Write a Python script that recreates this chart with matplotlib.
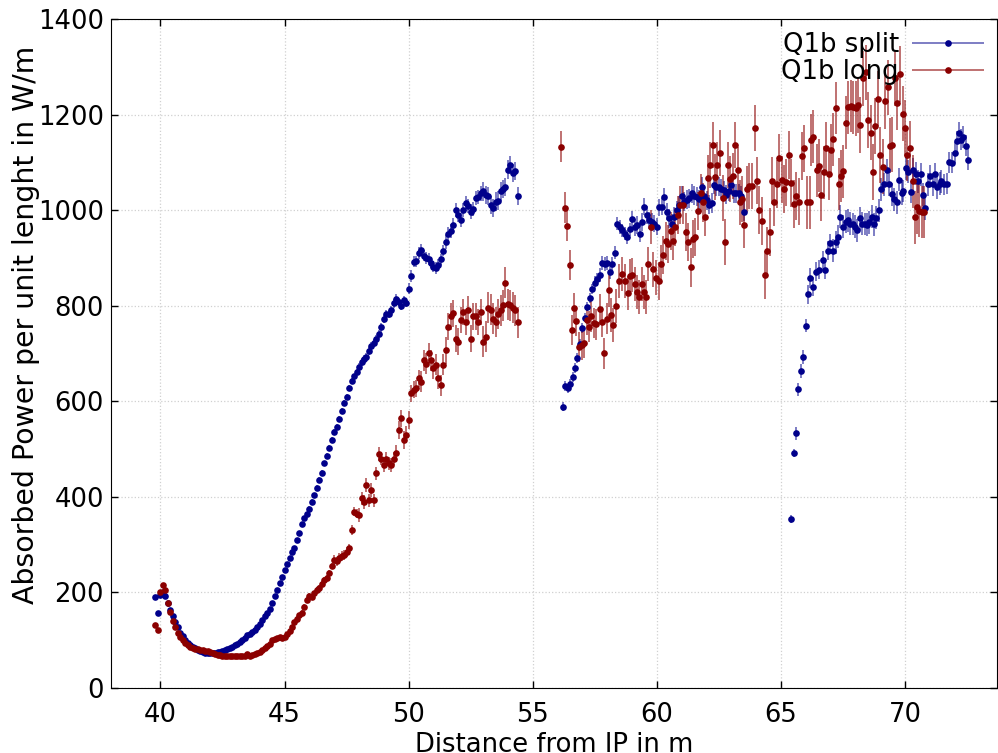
import numpy as np
from matplotlib import pyplot as plt
from matplotlib.container import ErrorbarContainer
from matplotlib.legend_handler import HandlerErrorbar

"""
Absorbed power along the Q1b magnet, split vs long layout
values read off the reference picture
"""

"""Q1b split, first part: 39.8 m .. 54.4 m, one point every 0.1 m"""
split_a_x = np.round(np.arange(39.8, 54.45, 0.1), 1)
split_a_y = [190, 158, 195, 200, 192, 178, 163, 150, 138, 127,
             116, 108, 100, 95, 90, 86, 83, 80, 78, 76,
             74, 73, 73, 73, 74, 75, 76, 78, 79, 81,
             83, 86, 89, 93, 97, 100, 105, 110, 113, 117,
             121, 128, 135, 142, 150, 157, 166, 177, 192, 206,
             219, 232, 248, 260, 272, 285, 293, 310, 325, 343,
             355, 364, 374, 390, 403, 418, 435, 450, 470, 485,
             503, 520, 535, 547, 563, 580, 596, 610, 628, 642,
             652, 662, 672, 682, 688, 693, 705, 716, 722, 730,
             740, 755, 772, 782, 783, 790, 805, 815, 808, 800,
             812, 806, 836, 862, 892, 893, 910, 917, 905, 900,
             898, 890, 882, 879, 886, 897, 915, 934, 950, 957,
             968, 1000, 990, 980, 1000, 1014, 1008, 997, 1002, 1025,
             1028, 1035, 1039, 1032, 1030, 1010, 1004, 1018, 1020, 1039,
             1045, 1049, 1085, 1094, 1077, 1082, 1030]

"""Q1b split, second part: 56.2 m .. 63.5 m"""
split_b_x = np.round(np.arange(56.2, 63.55, 0.1), 1)
split_b_y = [589, 632, 627, 637, 651, 670, 690, 720, 753, 775,
             798, 816, 835, 848, 855, 864, 889, 887, 889, 870,
             887, 911, 972, 965, 958, 951, 944, 960, 981, 964,
             969, 951, 975, 1007, 990, 979, 975, 972, 965, 1006,
             1007, 1028, 997, 983, 972, 986, 1000, 1010, 1030, 1018,
             1022, 1025, 1035, 1030, 1028, 1023, 1049, 1030, 1021, 1011,
             1015, 1053, 1049, 1049, 1045, 1042, 1032, 1040, 1053, 1035,
             1035, 1035, 1030, 997]

"""Q1b split, third part"""
split_c_x = [65.4, 65.52, 65.61, 65.7, 65.8, 65.88, 65.99, 66.09, 66.17, 66.3,
             66.41, 66.54, 66.68, 66.79, 66.91, 66.99, 67.1, 67.2, 67.3, 67.39,
             67.48, 67.6, 67.7, 67.78, 67.88, 67.99, 68.08, 68.2, 68.27, 68.37,
             68.47, 68.55, 68.67, 68.75, 68.83, 68.95, 69.04, 69.14, 69.26, 69.33,
             69.47, 69.57, 69.66, 69.77, 69.86, 69.93, 70.02, 70.11, 70.24, 70.33,
             70.42, 70.52, 70.62, 70.71, 70.79, 70.91, 71.01, 71.11, 71.21, 71.3,
             71.39, 71.46, 71.57, 71.67, 71.78, 71.88, 71.99, 72.07, 72.16, 72.24,
             72.34, 72.44, 72.54]
split_c_y = [353, 492, 533, 625, 663, 693, 758, 824, 858, 840,
             871, 875, 895, 875, 915, 931, 915, 933, 944, 986,
             965, 976, 979, 972, 971, 965, 958, 983, 972, 971,
             969, 975, 986, 970, 984, 1000, 1044, 1054, 1083, 1054,
             1033, 1023, 1016, 1064, 1035, 1040, 1088, 1080, 1038, 1085,
             1076, 1060, 1075, 1032, 1004, 1054, 1071, 1054, 1075, 1048,
             1055, 1060, 1054, 1055, 1100, 1099, 1120, 1144, 1162, 1147,
             1153, 1135, 1105]

"""Q1b long, first part: 39.8 m .. 54.4 m"""
long_a_x = np.round(np.arange(39.8, 54.45, 0.1), 1)
long_a_y = [132, 122, 200, 215, 205, 178, 160, 140, 128, 115,
            106, 100, 94, 89, 86, 84, 82, 81, 80, 79,
            78, 77, 76, 74, 72, 70, 69, 68, 68, 67,
            67, 68, 66, 67, 66, 66, 68, 72, 68, 70,
            71, 73, 76, 80, 84, 88, 92, 100, 103, 105,
            107, 104, 106, 112, 120, 128, 138, 145, 152, 158,
            170, 185, 192, 190, 198, 205, 210, 218, 226, 230,
            240, 255, 268, 265, 272, 276, 278, 285, 292, 331,
            369, 365, 362, 397, 389, 425, 393, 414, 393, 449,
            490, 480, 467, 480, 470, 467, 480, 491, 540, 564,
            519, 530, 561, 617, 624, 627, 648, 641, 686, 679,
            700, 686, 669, 676, 648, 634, 676, 707, 756, 778,
            784, 731, 725, 770, 787, 766, 792, 731, 778, 778,
            766, 787, 725, 735, 796, 792, 773, 766, 783, 790,
            801, 848, 803, 801, 796, 790, 765]

"""Q1b long, second part"""
long_b_x = [56.15, 56.29, 56.38, 56.48, 56.57, 56.66, 56.76, 56.86, 56.97, 57.06,
            57.18, 57.27, 57.36, 57.47, 57.55, 57.69, 57.77, 57.88, 57.97, 58.05,
            58.14, 58.24, 58.37, 58.48, 58.59, 58.72, 58.83, 58.93, 59.01, 59.1,
            59.2, 59.28, 59.38, 59.47, 59.55, 59.66, 59.76, 59.86, 59.97, 60.07,
            60.16, 60.25, 60.36, 60.46, 60.55, 60.64, 60.74, 60.83, 60.93, 61.06,
            61.17, 61.27, 61.36, 61.45, 61.55, 61.67, 61.77, 61.86, 61.94, 62.04,
            62.13, 62.24, 62.34, 62.42, 62.55, 62.65, 62.74, 62.85, 62.95, 63.05,
            63.16, 63.26, 63.35, 63.42, 63.52, 63.63, 63.72, 63.83, 63.94, 64.05,
            64.13, 64.22, 64.36, 64.45, 64.55,
            64.64, 64.73, 64.82, 64.93, 65.03, 65.12, 65.22, 65.33, 65.42, 65.52,
            65.61, 65.73, 65.83, 65.93, 66.04, 66.15, 66.21, 66.3, 66.44, 66.52,
            66.63, 66.73, 66.82, 66.92, 67.0, 67.11, 67.22, 67.32, 67.41, 67.5,
            67.62, 67.71, 67.81, 67.91, 68.0, 68.1, 68.19, 68.31, 68.42, 68.51,
            68.61, 68.71, 68.8, 68.91, 69.0, 69.1, 69.2, 69.31, 69.4, 69.49,
            69.59, 69.67, 69.81, 69.9, 69.99, 70.09, 70.2, 70.3, 70.39, 70.48,
            70.57, 70.67, 70.77]
long_b_y = [1133, 1005, 967, 885, 749, 795, 768, 714, 718, 722,
            770, 756, 778, 764, 761, 793, 766, 700, 773, 833,
            780, 760, 800, 852, 866, 852, 826, 862, 864, 845,
            829, 818, 846, 829, 818, 887, 965, 876, 859, 852,
            887, 906, 936, 929, 957, 936, 965, 990, 1011, 1011,
            955, 933, 880, 940, 943, 998, 1036, 1016, 985, 1067,
            1095, 1136, 1070, 1095, 1120, 1026, 934, 1094, 1065, 1071,
            1136, 1085, 1016, 1023, 969, 1044, 1051, 1051, 1171, 1062,
            1000, 977, 864, 914, 955,
            1062, 1016, 1055, 1110, 1064, 1044, 1058, 1115, 1057, 1013,
            1030, 1018, 1113, 1129, 1016, 1016, 1147, 1154, 1083, 1093,
            1032, 1079, 1129, 1076, 1126, 1148, 1214, 1055, 1071, 1081,
            1183, 1215, 1218, 1215, 1213, 1220, 1178, 1276, 1288, 1189,
            1162, 1080, 1176, 1233, 1115, 1091, 1228, 1257, 1135, 1137,
            1276, 1225, 1285, 1202, 1172, 1115, 1131, 1060, 985, 1006,
            999, 996, 996]

"""Size of the y error bars, read off per stretch of distance (start of stretch, W/m)"""
split_err_from = [38, 44, 46, 48, 50, 51.5, 53, 55, 57.5, 59, 60.5, 64, 65.6, 66, 67, 70, 71.5]
split_err_size = [3, 4, 6, 9, 12, 15, 19, 10, 14, 18, 20, 8, 14, 20, 24, 24, 22]
long_err_from = [38, 44, 45.5, 47, 48, 49.5, 50.5, 51.5, 53, 55, 58, 60, 62, 64, 66, 68, 70]
long_err_size = [3, 4, 6, 10, 14, 18, 22, 28, 32, 32, 36, 40, 48, 50, 55, 58, 55]

x_bin = 0.05  # half width of a bin in m

xlabels = ["40", "45", "50", "55", "60", "65", "70"]
ylabels = ["0", "200", "400", "600", "800", "1000", "1200", "1400"]


def errors(x, starts, sizes):
    idx = np.searchsorted(starts, x, side="right") - 1
    return np.array(sizes)[idx]


def join(*parts):
    return np.concatenate([np.asarray(p, dtype=float) for p in parts])


sx = join(split_a_x, split_b_x, split_c_x)
sy = join(split_a_y, split_b_y, split_c_y)
lx = join(long_a_x, long_b_x)
ly = join(long_a_y, long_b_y)

fs = 18.6
plt.rcParams['font.family'] = 'DejaVu Sans'
plt.rcParams['font.size'] = fs

fig = plt.figure(figsize=(9.98, 7.53), dpi=100)
ax = fig.add_axes([0.111, 0.0863, 0.888, 0.8885])

ax.grid(True, color='#d0d0d0', linestyle=':', linewidth=0.9)
ax.set_axisbelow(True)

# the split one is drawn first, the long one lies over it
blue = '#00008b'
red = '#8b0000'
ax.errorbar(sx, sy, yerr=errors(sx, split_err_from, split_err_size), xerr=x_bin,
            fmt='o', color=blue, ms=4.8, mew=0, ecolor=(0, 0, 0.55, 0.55),
            elinewidth=1.3, capsize=2.5, capthick=1.3, label="Q1b split")
ax.errorbar(lx, ly, yerr=errors(lx, long_err_from, long_err_size), xerr=x_bin,
            fmt='o', color=red, ms=4.8, mew=0, ecolor=(0.55, 0, 0, 0.6),
            elinewidth=1.3, capsize=2.5, capthick=1.3, label="Q1b long")

ax.set_xlim(38, 73.7)
ax.set_ylim(0, 1400)
ax.set_xticks([int(t) for t in xlabels])
ax.set_xticklabels(xlabels)
ax.set_yticks([int(t) for t in ylabels])
ax.set_yticklabels(ylabels)
ax.tick_params(direction='in', top=True, right=True, length=5, width=1, labelsize=fs)
ax.tick_params(axis='x', pad=10)
ax.tick_params(axis='y', pad=5)

ax.set_xlabel("Distance from IP in m", fontsize=fs, labelpad=3)
ax.set_ylabel("Absorbed Power per unit lenght in W/m", fontsize=20.4)
ax.yaxis.set_label_coords(-0.08, 0.543)

leg = ax.legend(loc='upper right', frameon=False, markerfirst=False, fontsize=fs,
                handlelength=2.8, handletextpad=0.5, labelspacing=0.05, borderaxespad=0.1,
                handler_map={ErrorbarContainer: HandlerErrorbar(xerr_size=1.4, yerr_size=0.0)})
for t in leg.get_texts():
    t.set_ha('left')

fig.savefig("out.png", dpi=100)
